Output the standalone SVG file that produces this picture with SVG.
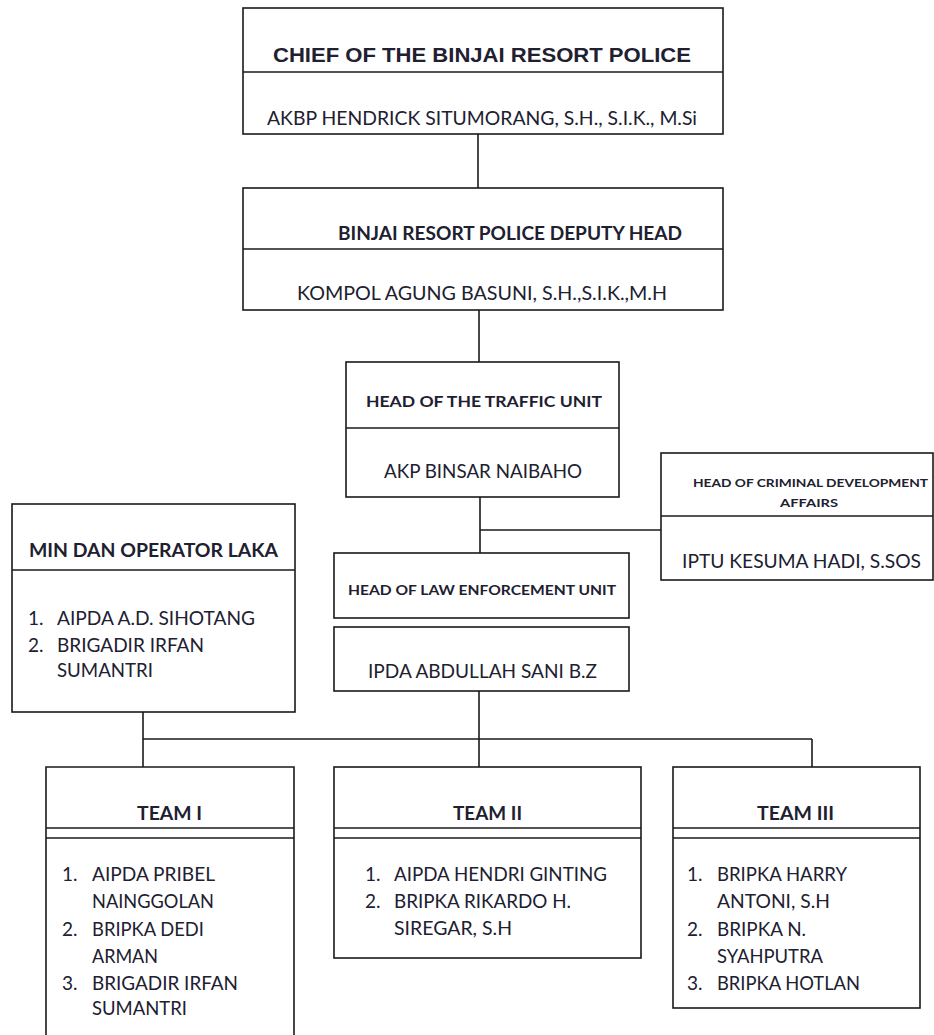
<svg xmlns="http://www.w3.org/2000/svg" width="934" height="1035" viewBox="0 0 934 1035">
<style>
  .box { fill: #ffffff; stroke: #1a1a1a; stroke-width: 1.6; }
  .div { stroke: #1a1a1a; stroke-width: 1.6; fill: none; }
  .conn { stroke: #1a1a1a; stroke-width: 1.6; fill: none; }
  text { fill: #202030; font-family: Lato, "Open Sans", "Liberation Sans", sans-serif; }
  .arialb { font-family: "Liberation Sans", Arial, sans-serif; font-weight: bold; font-size: 20px; }
  .tb { font-weight: bold; font-size: 18px; }
  .nm { font-size: 19px; }
  .li { font-size: 19px; }
</style>
<rect width="934" height="1035" fill="#ffffff"/>

<g id="connectors">
  <line class="conn" x1="478" y1="134" x2="478" y2="188"/>
  <line class="conn" x1="479" y1="310" x2="479" y2="362"/>
  <line class="conn" x1="480" y1="497" x2="480" y2="553"/>
  <line class="conn" x1="480" y1="530" x2="661" y2="530"/>
  <line class="conn" x1="479" y1="691" x2="479" y2="767"/>
  <line class="conn" x1="143" y1="712" x2="143" y2="767"/>
  <line class="conn" x1="143" y1="739" x2="812" y2="739"/>
  <line class="conn" x1="812" y1="739" x2="812" y2="767"/>
</g>

<g id="chief">
  <rect class="box" x="243" y="8" width="480" height="126"/>
  <line class="div" x1="243" y1="72" x2="723" y2="72"/>
  <text class="arialb" x="273" y="62" textLength="418" lengthAdjust="spacingAndGlyphs">CHIEF  OF THE BINJAI RESORT  POLICE</text>
  <text class="nm" x="267" y="125" textLength="430" lengthAdjust="spacingAndGlyphs">AKBP HENDRICK SITUMORANG,  S.H., S.I.K., M.Si</text>
</g>

<g id="deputy">
  <rect class="box" x="243" y="188" width="480" height="122"/>
  <line class="div" x1="243" y1="249" x2="723" y2="249"/>
  <text class="tb" x="338" y="240" textLength="344" lengthAdjust="spacingAndGlyphs">BINJAI RESORT POLICE DEPUTY  HEAD</text>
  <text class="nm" x="297" y="300" textLength="370" lengthAdjust="spacingAndGlyphs">KOMPOL AGUNG BASUNI, S.H.,S.I.K.,M.H</text>
</g>

<g id="traffic">
  <rect class="box" x="346" y="362" width="273" height="135"/>
  <line class="div" x1="346" y1="428" x2="619" y2="428"/>
  <text class="tb" style="font-size:15px" x="366" y="407" textLength="236" lengthAdjust="spacingAndGlyphs">HEAD OF THE TRAFFIC UNIT</text>
  <text class="nm" x="384" y="478" textLength="198" lengthAdjust="spacingAndGlyphs">AKP BINSAR  NAIBAHO</text>
</g>

<g id="criminal">
  <rect class="box" x="661" y="453" width="272" height="127"/>
  <line class="div" x1="661" y1="516" x2="933" y2="516"/>
  <text class="tb" style="font-size:11px" x="693" y="487" textLength="235" lengthAdjust="spacingAndGlyphs">HEAD OF CRIMINAL DEVELOPMENT</text>
  <text class="tb" style="font-size:11px" x="780" y="507" textLength="58" lengthAdjust="spacingAndGlyphs">AFFAIRS</text>
  <text class="nm" x="682" y="568" textLength="239" lengthAdjust="spacingAndGlyphs">IPTU KESUMA  HADI, S.SOS</text>
</g>

<g id="min-operator">
  <rect class="box" x="12" y="504" width="283" height="208"/>
  <line class="div" x1="12" y1="570" x2="295" y2="570"/>
  <text class="tb" x="29" y="557" textLength="249" lengthAdjust="spacingAndGlyphs">MIN DAN OPERATOR  LAKA</text>
  <text class="li" x="28" y="625">1.</text>
  <text class="li" x="57" y="625" textLength="198" lengthAdjust="spacingAndGlyphs">AIPDA A.D. SIHOTANG</text>
  <text class="li" x="28" y="652">2.</text>
  <text class="li" x="57" y="652" textLength="147" lengthAdjust="spacingAndGlyphs">BRIGADIR IRFAN</text>
  <text class="li" x="57" y="677" textLength="96" lengthAdjust="spacingAndGlyphs">SUMANTRI</text>
</g>

<g id="law-enforcement">
  <rect class="box" x="334" y="553" width="295" height="65"/>
  <text class="tb" style="font-size:13px" x="348" y="595" textLength="268" lengthAdjust="spacingAndGlyphs">HEAD  OF LAW  ENFORCEMENT  UNIT</text>
  <rect class="box" x="334" y="627" width="295" height="64"/>
  <text class="nm" x="368" y="678" textLength="229" lengthAdjust="spacingAndGlyphs">IPDA ABDULLAH SANI  B.Z</text>
</g>

<g id="team-1">
  <path class="div" d="M46 1040 V767 H294 V1040"/>
  <line class="div" x1="46" y1="828" x2="294" y2="828"/>
  <line class="div" x1="46" y1="838" x2="294" y2="838"/>
  <text class="tb" x="137" y="820" textLength="65" lengthAdjust="spacingAndGlyphs">TEAM  I</text>
  <text class="li" x="62" y="881">1.</text>
  <text class="li" x="92" y="881" textLength="123" lengthAdjust="spacingAndGlyphs">AIPDA PRIBEL</text>
  <text class="li" x="92" y="908" textLength="122" lengthAdjust="spacingAndGlyphs">NAINGGOLAN</text>
  <text class="li" x="62" y="936">2.</text>
  <text class="li" x="92" y="936" textLength="112" lengthAdjust="spacingAndGlyphs">BRIPKA DEDI</text>
  <text class="li" x="92" y="963" textLength="66" lengthAdjust="spacingAndGlyphs">ARMAN</text>
  <text class="li" x="62" y="990">3.</text>
  <text class="li" x="92" y="990" textLength="146" lengthAdjust="spacingAndGlyphs">BRIGADIR IRFAN</text>
  <text class="li" x="92" y="1015" textLength="95" lengthAdjust="spacingAndGlyphs">SUMANTRI</text>
</g>

<g id="team-2">
  <rect class="box" x="334" y="767" width="307" height="191"/>
  <line class="div" x1="334" y1="828" x2="641" y2="828"/>
  <line class="div" x1="334" y1="838" x2="641" y2="838"/>
  <text class="tb" x="453" y="820" textLength="69" lengthAdjust="spacingAndGlyphs">TEAM  II</text>
  <text class="li" x="365" y="881">1.</text>
  <text class="li" x="394" y="881" textLength="213" lengthAdjust="spacingAndGlyphs">AIPDA HENDRI GINTING</text>
  <text class="li" x="365" y="908">2.</text>
  <text class="li" x="394" y="908" textLength="177" lengthAdjust="spacingAndGlyphs">BRIPKA RIKARDO H.</text>
  <text class="li" x="394" y="935" textLength="118" lengthAdjust="spacingAndGlyphs">SIREGAR, S.H</text>
</g>

<g id="team-3">
  <rect class="box" x="673" y="767" width="247" height="241"/>
  <line class="div" x1="673" y1="828" x2="920" y2="828"/>
  <line class="div" x1="673" y1="838" x2="920" y2="838"/>
  <text class="tb" x="757" y="820" textLength="77" lengthAdjust="spacingAndGlyphs">TEAM  III</text>
  <text class="li" x="687" y="881">1.</text>
  <text class="li" x="717" y="881" textLength="130" lengthAdjust="spacingAndGlyphs">BRIPKA HARRY</text>
  <text class="li" x="717" y="908" textLength="113" lengthAdjust="spacingAndGlyphs">ANTONI,  S.H</text>
  <text class="li" x="687" y="936">2.</text>
  <text class="li" x="717" y="936" textLength="89" lengthAdjust="spacingAndGlyphs">BRIPKA N.</text>
  <text class="li" x="717" y="963" textLength="106" lengthAdjust="spacingAndGlyphs">SYAHPUTRA</text>
  <text class="li" x="687" y="990">3.</text>
  <text class="li" x="717" y="990" textLength="143" lengthAdjust="spacingAndGlyphs">BRIPKA HOTLAN</text>
</g>
</svg>
